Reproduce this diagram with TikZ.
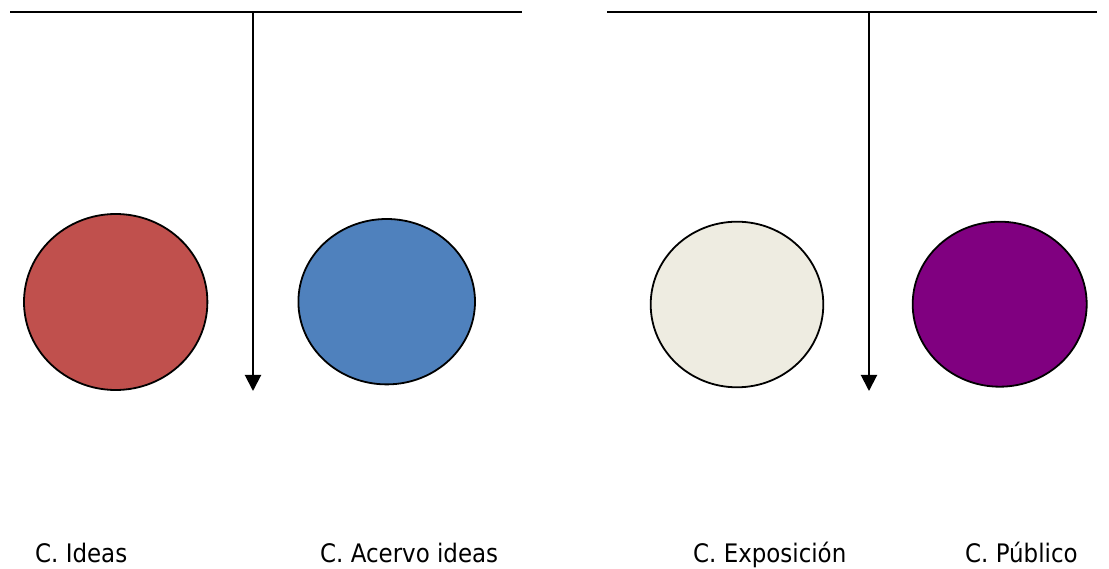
\documentclass[tikz,border=0pt]{standalone}
\usepackage{fontspec}
\setmainfont{DejaVu Sans Condensed}
\usetikzlibrary{arrows.meta}
\definecolor{cred}{HTML}{C0504D}
\definecolor{cblue}{HTML}{4F81BD}
\definecolor{ccream}{HTML}{EEECE1}
\definecolor{cpurple}{HTML}{800080}
\begin{document}
\begin{tikzpicture}[x=1pt,y=-1pt,
  bar/.style={line width=2pt},
  arr/.style={line width=2pt,-{Triangle[length=16pt,width=16pt]}},
  outline/.style={line width=1.8pt},
  lab/.style={anchor=base west,inner sep=0pt,font=\fontsize{25.5}{30}\selectfont}]
\useasboundingbox (0,0) rectangle (1109,569);
% top bars
\coordinate (l1) at (10,12);
\coordinate (l2) at (522,12);
\coordinate (r1) at (607,12);
\coordinate (r2) at (1097,12);
\coordinate (a1) at (253,12);
\coordinate (a1e) at (253,391);
\coordinate (a2) at (869,12);
\coordinate (a2e) at (869,391);
\draw[bar] (l1) -- (l2);
\draw[bar] (r1) -- (r2);
\draw[arr] (a1) -- (a1e);
\draw[arr] (a2) -- (a2e);
% circles
\filldraw[fill=cred,outline] (115.7,302) ellipse [x radius=91.7, y radius=88];
\filldraw[fill=cblue,outline] (386.7,301.7) ellipse [x radius=88.3, y radius=82.7];
\filldraw[fill=ccream,outline] (737,304.5) ellipse [x radius=86.3, y radius=82.8];
\filldraw[fill=cpurple,outline] (999.7,304.2) ellipse [x radius=87, y radius=82.5];
% labels
\node[lab] (t1) at (35,562) {C. Ideas};
\node[lab] (t2) at (320,562) {C. Acervo ideas};
\node[lab] (t3) at (693,562) {C. Exposición};
\node[lab] (t4) at (965,562) {C. Público};
\end{tikzpicture}
\end{document}
